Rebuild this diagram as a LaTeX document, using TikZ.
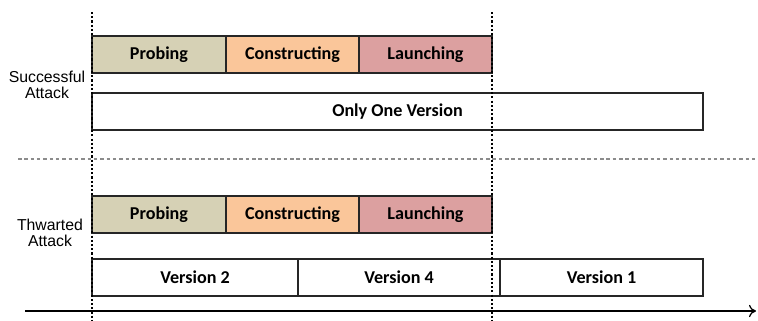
\documentclass[tikz,border=0pt]{standalone}
\usepackage{fontspec}
\setmainfont{Carlito}
\newfontfamily\sidefont{Liberation Sans}
\usetikzlibrary{positioning, arrows.meta, shadows}

\definecolor{probecol}{RGB}{214,209,181}
\definecolor{buildcol}{RGB}{250,198,154}
\definecolor{launchcol}{RGB}{220,160,160}

\tikzset{
  stagebox/.style={draw=black!85, line width=0.9pt, minimum height=0.74cm,
    inner sep=0pt, outer sep=0pt, font=\fontsize{10.3}{12}\selectfont\bfseries,
    drop shadow={shadow xshift=0.8pt, shadow yshift=-0.8pt, opacity=0.25}},
  sidelabel/.style={align=center, font=\sidefont\fontsize{9}{9.4}\selectfont},
  bound/.style={line width=0.8pt, dash pattern=on 1.2pt off 1.2pt},
  divider/.style={black!45, line width=0.6pt, dash pattern=on 2pt off 1.6pt},
}

\begin{document}
\begin{tikzpicture}
  \useasboundingbox (0,0) rectangle (15.16,6.4);

  % successful attack: one version for the whole run
  \node[stagebox, fill=probecol, minimum width=2.68cm, anchor=north west] (probeA) at (1.84,5.68) {Probing};
  \node[stagebox, fill=buildcol, minimum width=2.66cm, right=0pt of probeA] (buildA) {Constructing};
  \node[stagebox, fill=launchcol, minimum width=2.66cm, right=0pt of buildA] (launchA) {Launching};
  \node[stagebox, fill=white, minimum width=12.22cm, anchor=north west] (single) at (1.84,4.54) {Only One Version};
  \node[sidelabel] (succ) at (0.94,4.7) {Successful\\Attack};

  % thwarted attack: versions switched along the way
  \node[stagebox, fill=probecol, minimum width=2.68cm, anchor=north west] (probeB) at (1.84,2.48) {Probing};
  \node[stagebox, fill=buildcol, minimum width=2.66cm, right=0pt of probeB] (buildB) {Constructing};
  \node[stagebox, fill=launchcol, minimum width=2.66cm, right=0pt of buildB] (launchB) {Launching};
  \node[stagebox, fill=white, minimum width=4.12cm, anchor=north west] (verTwo) at (1.84,1.22) {Version 2};
  \node[stagebox, fill=white, minimum width=4.04cm, right=0pt of verTwo] (verFour) {Version 4};
  \node[stagebox, fill=white, minimum width=4.06cm, right=0pt of verFour] (verOne) {Version 1};
  \node[sidelabel] (thw) at (1.0,1.74) {Thwarted\\Attack};

  % start and end of the attack
  \coordinate (startTop) at (1.84,6.16);
  \coordinate (startBot) at (1.84,0);
  \coordinate (endTop) at (9.84,6.16);
  \coordinate (endBot) at (9.84,0);
  \draw[bound] (startTop) -- (startBot);
  \draw[bound] (endTop) -- (endBot);

  % split between the two cases
  \coordinate (splitL) at (0.36,3.22);
  \coordinate (splitR) at (15.16,3.22);
  \draw[divider] (splitL) -- (splitR);

  % time axis
  \coordinate (timeL) at (0.5,0.18);
  \coordinate (timeR) at (15.12,0.18);
  \draw[line width=0.7pt, -{To[length=4pt,width=7pt]}] (timeL) -- (timeR);
\end{tikzpicture}
\end{document}
